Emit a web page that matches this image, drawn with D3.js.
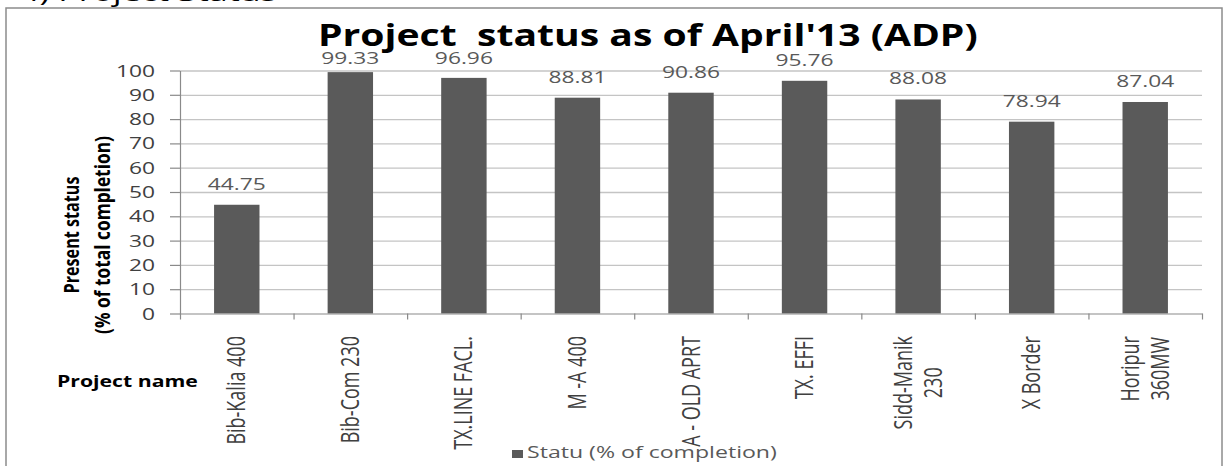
<!DOCTYPE html>
<html>
<head>
<meta charset="utf-8">
<script src="https://cdn.jsdelivr.net/npm/d3@7"></script>
<style>
  html, body { margin: 0; padding: 0; background: #ffffff; }
  svg { display: block; }
  text { font-family: "Open Sans", "DejaVu Sans", sans-serif; }
</style>
</head>
<body>
<svg id="chart" width="1225" height="466"></svg>
<script>
// ---- data ----
const categories = ["Bib-Kalia 400", "Bib-Com 230", "TX.LINE FACL.", "M -A 400", "A - OLD APRT", "TX. EFFI", "Sidd-Manik\n230", "X Border", "Horipur\n360MW"];
const values = [44.75, 99.33, 96.96, 88.81, 90.86, 95.76, 88.08, 78.94, 87.04];
const yTicks = [0, 10, 20, 30, 40, 50, 60, 70, 80, 90, 100];
const titleText = "Project  status as of April'13 (ADP)";
const yTitleLines = ["Present status", "(% of total completion)"];
const xTitleText = "Project name";
const legendText = "Statu (% of completion)";
const headingText = "4) Project Status";

// ---- layout ----
const svg = d3.select("#chart");
const pL = 180, pR = 1202, pT = 70.5, pB = 313.5;
const barColor = "#5a5a5a";
const S = 1.38; // horizontal stretch of the source picture

const x = d3.scaleBand().domain(categories).range([pL, pR]).paddingInner(0.6).paddingOuter(0.3);
const xb = d3.scaleLinear().domain([0, categories.length]).range([pL, pR]);
const y = d3.scaleLinear().domain([0, 100]).range([pB, pT]);

// heading cut off at the top of the picture
const heading = svg.append("text")
  .attr("font-size", 24).attr("fill", "#000")
  .text(headingText);
{
  const w = heading.node().getComputedTextLength();
  heading.attr("transform", `translate(20,1) scale(${257 / w},1)`);
}

// outer frame
svg.append("rect").attr("x", 6).attr("y", 8).attr("width", 1216).attr("height", 470)
  .attr("fill", "#fff").attr("stroke", "#8c8c8c").attr("stroke-width", 1.5);

// grid lines
const grid = svg.append("g").attr("transform", `translate(${pL},0)`)
  .call(d3.axisLeft(y).tickValues(yTicks.filter(v => v > 0)).tickSize(-(pR - pL)).tickFormat(""));
grid.select(".domain").remove();
grid.selectAll("line").attr("stroke", "#c4c4c4").attr("stroke-width", 1.3);

// y axis
const yAx = svg.append("g").attr("transform", `translate(${pL},0)`)
  .call(d3.axisLeft(y).tickValues(yTicks).tickSize(10).tickSizeOuter(0).tickFormat(""));
yAx.select(".domain").attr("stroke", "#8a8a8a").attr("stroke-width", 1.2);
yAx.selectAll("line").attr("stroke", "#8a8a8a").attr("stroke-width", 1.2);

// y tick labels
svg.append("g").selectAll("text").data(yTicks).join("text")
  .attr("text-anchor", "end")
  .attr("font-size", 16.5)
  .attr("fill", "#404040")
  .attr("transform", d => `translate(155,${y(d) + 6}) scale(${S},1)`)
  .text(d => d);

// bars
svg.append("g").selectAll("rect").data(values).join("rect")
  .attr("x", (d, i) => x(categories[i]))
  .attr("y", d => y(d))
  .attr("width", x.bandwidth())
  .attr("height", d => y(0) - y(d))
  .attr("fill", barColor);

// x axis with boundary ticks
const xAx = svg.append("g").attr("transform", `translate(0,${pB})`)
  .call(d3.axisBottom(xb).tickValues(d3.range(categories.length + 1)).tickSize(6).tickSizeOuter(0).tickFormat(""));
xAx.select(".domain").attr("stroke", "#8a8a8a").attr("stroke-width", 1.2);
xAx.selectAll("line").attr("stroke", "#8a8a8a").attr("stroke-width", 1.2);

// data labels
svg.append("g").selectAll("text").data(values).join("text")
  .attr("text-anchor", "middle")
  .attr("font-size", 16.5)
  .attr("fill", "#595959")
  .attr("transform", (d, i) => `translate(${x(categories[i]) + x.bandwidth() / 2},${Math.max(y(d) - 15, y(100) - 6.5)}) scale(${S},1)`)
  .text(d => d.toFixed(2));

// category labels (rotated)
const catG = svg.append("g");
categories.forEach((c, i) => {
  const lines = c.split("\n");
  const cx = x(c) + x.bandwidth() / 2;
  const texts = lines.map(() => catG.append("text"));
  texts.forEach((t, j) => t.attr("font-size", 18).attr("fill", "#404040").attr("text-anchor", "middle").text(lines[j]));
  const maxLen = d3.max(texts, t => t.node().getComputedTextLength());
  texts.forEach((t, j) => {
    const bx = cx + 8.5 + (j - (lines.length - 1) / 2) * 30;
    t.attr("transform", `translate(${bx},${336 + maxLen / 2}) rotate(-90) scale(1,1.4)`);
  });
});

// title
const title = svg.append("text").attr("font-size", 31).attr("font-weight", "bold")
  .attr("fill", "#000").style("white-space", "pre").text(titleText);
{
  const w = title.node().getComputedTextLength();
  title.attr("transform", `translate(318,46) scale(${660 / w},1)`);
}

// y axis title (rotated, two lines)
const yTitleSpecs = [{bx: 79, len: 117}, {bx: 110, len: 198}];
yTitleLines.forEach((line, j) => {
  const t = svg.append("text").attr("font-size", 16).attr("font-weight", "bold")
    .attr("fill", "#000").attr("text-anchor", "middle").text(line);
  const w = t.node().getComputedTextLength();
  t.attr("transform", `translate(${yTitleSpecs[j].bx},235) rotate(-90) scale(${yTitleSpecs[j].len / w},1.3)`);
});

// x axis title
const xTitle = svg.append("text").attr("font-size", 16.5).attr("font-weight", "bold")
  .attr("fill", "#000").text(xTitleText);
{
  const w = xTitle.node().getComputedTextLength();
  xTitle.attr("transform", `translate(57,387) scale(${141 / w},1)`);
}

// legend
svg.append("rect").attr("x", 512).attr("y", 450).attr("width", 11).attr("height", 8).attr("fill", barColor);
const leg = svg.append("text").attr("font-size", 16.5).attr("fill", "#595959").text(legendText);
{
  const w = leg.node().getComputedTextLength();
  leg.attr("transform", `translate(527,458) scale(${250 / w},1)`);
}
</script>
</body>
</html>
